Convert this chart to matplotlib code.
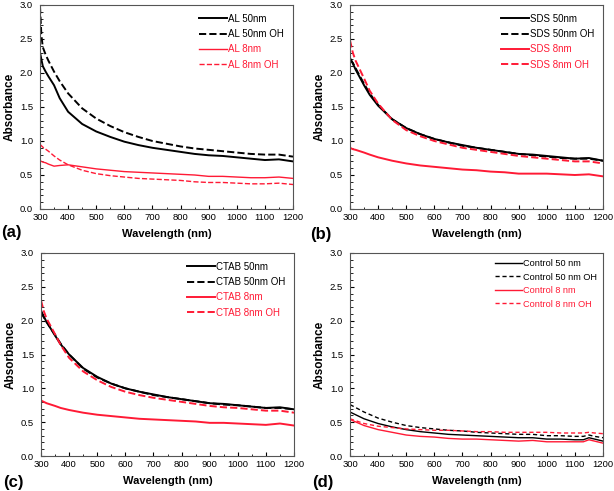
import matplotlib
matplotlib.use("Agg")
import matplotlib.pyplot as plt
from matplotlib.ticker import MultipleLocator

plt.rcParams['font.family'] = ['Liberation Sans', 'DejaVu Sans']

RED = '#ff1a35'

# ---- Panel (a): AL ----
wl_a = [300, 305, 310, 320, 330, 350, 370, 400, 450, 500, 550, 600, 650, 700, 750,
        800, 850, 900, 950, 1000, 1050, 1100, 1150, 1200]
al50 = [2.30, 2.20, 2.10, 2.02, 1.95, 1.82, 1.63, 1.43, 1.25, 1.14, 1.06, 0.99, 0.94,
        0.90, 0.87, 0.84, 0.81, 0.79, 0.78, 0.76, 0.74, 0.72, 0.73, 0.70]
al50oh = [2.98, 2.55, 2.38, 2.27, 2.18, 2.02, 1.88, 1.70, 1.48, 1.33, 1.22, 1.13, 1.06,
          1.00, 0.96, 0.92, 0.89, 0.87, 0.85, 0.83, 0.81, 0.80, 0.80, 0.77]
al8 = [0.71, 0.70, 0.69, 0.68, 0.66, 0.63, 0.64, 0.65, 0.62, 0.59, 0.57, 0.55, 0.54,
       0.53, 0.52, 0.51, 0.50, 0.48, 0.48, 0.47, 0.46, 0.46, 0.47, 0.45]
al8oh = [0.95, 0.93, 0.91, 0.88, 0.85, 0.78, 0.72, 0.65, 0.57, 0.52, 0.49, 0.47, 0.45,
         0.44, 0.43, 0.42, 0.40, 0.39, 0.39, 0.38, 0.37, 0.37, 0.38, 0.36]

# ---- Panel (b): SDS ----
wl_b = [300, 310, 320, 350, 370, 400, 450, 500, 550, 600, 650, 700, 750, 800, 850,
        900, 950, 1000, 1050, 1100, 1150, 1200]
sds50 = [2.22, 2.14, 2.05, 1.82, 1.68, 1.52, 1.32, 1.19, 1.10, 1.03, 0.98, 0.94, 0.90,
         0.87, 0.84, 0.81, 0.80, 0.78, 0.76, 0.74, 0.75, 0.71]
sds50oh = [2.20, 2.15, 2.07, 1.84, 1.70, 1.53, 1.32, 1.19, 1.10, 1.03, 0.98, 0.93, 0.90,
           0.87, 0.84, 0.81, 0.79, 0.77, 0.75, 0.74, 0.74, 0.71]
sds8 = [0.90, 0.88, 0.87, 0.83, 0.80, 0.76, 0.71, 0.67, 0.64, 0.62, 0.60, 0.58, 0.57,
        0.55, 0.54, 0.52, 0.52, 0.52, 0.51, 0.50, 0.51, 0.48]
sds8oh = [2.48, 2.30, 2.18, 1.92, 1.74, 1.55, 1.31, 1.16, 1.07, 1.00, 0.95, 0.90, 0.87,
          0.84, 0.81, 0.78, 0.76, 0.74, 0.72, 0.70, 0.70, 0.67]

# ---- Panel (c): CTAB ----
wl_c = [300, 310, 320, 350, 370, 400, 450, 500, 550, 600, 650, 700, 750, 800, 850,
        900, 950, 1000, 1050, 1100, 1150, 1200]
ctab50 = [2.15, 2.06, 1.98, 1.78, 1.65, 1.50, 1.30, 1.17, 1.07, 1.00, 0.95, 0.91, 0.87,
          0.84, 0.81, 0.78, 0.77, 0.75, 0.73, 0.71, 0.72, 0.69]
ctab50oh = [2.12, 2.05, 1.98, 1.79, 1.66, 1.50, 1.29, 1.16, 1.07, 1.00, 0.95, 0.90, 0.87,
            0.84, 0.81, 0.78, 0.76, 0.75, 0.73, 0.71, 0.71, 0.69]
ctab8 = [0.82, 0.80, 0.78, 0.74, 0.71, 0.68, 0.64, 0.61, 0.59, 0.57, 0.55, 0.54, 0.53,
         0.52, 0.51, 0.49, 0.49, 0.48, 0.47, 0.46, 0.48, 0.45]
ctab8oh = [2.30, 2.14, 2.03, 1.80, 1.64, 1.45, 1.25, 1.12, 1.02, 0.95, 0.90, 0.86, 0.83,
           0.80, 0.77, 0.74, 0.72, 0.71, 0.69, 0.67, 0.67, 0.64]

# ---- Panel (d): Control ----
wl_d = [300, 350, 400, 450, 500, 550, 600, 650, 700, 750, 800, 850, 900, 950, 1000,
        1050, 1100, 1130, 1150, 1170, 1200]
ctl50 = [0.65, 0.55, 0.48, 0.43, 0.39, 0.36, 0.34, 0.32, 0.31, 0.30, 0.29, 0.28, 0.27,
         0.27, 0.25, 0.25, 0.24, 0.24, 0.27, 0.25, 0.22]
ctl50oh = [0.76, 0.65, 0.56, 0.50, 0.45, 0.42, 0.40, 0.38, 0.37, 0.35, 0.34, 0.33, 0.32,
           0.32, 0.30, 0.30, 0.29, 0.29, 0.31, 0.29, 0.27]
ctl8 = [0.54, 0.45, 0.39, 0.35, 0.31, 0.29, 0.28, 0.26, 0.25, 0.25, 0.24, 0.23, 0.22,
        0.23, 0.21, 0.21, 0.21, 0.21, 0.24, 0.22, 0.19]
ctl8oh = [0.55, 0.48, 0.44, 0.42, 0.40, 0.39, 0.38, 0.38, 0.37, 0.36, 0.36, 0.35, 0.35,
          0.35, 0.35, 0.34, 0.34, 0.34, 0.35, 0.34, 0.33]

panels = [
    ('(a)', wl_a, [al50, al50oh, al8, al8oh],
     ['AL 50nm', 'AL 50nm OH', 'AL 8nm', 'AL 8nm OH'], 1.4, 1.0),
    ('(b)', wl_b, [sds50, sds50oh, sds8, sds8oh],
     ['SDS 50nm', 'SDS 50nm OH', 'SDS 8nm', 'SDS 8nm OH'], 1.4, 1.4),
    ('(c)', wl_c, [ctab50, ctab50oh, ctab8, ctab8oh],
     ['CTAB 50nm', 'CTAB 50nm OH', 'CTAB 8nm', 'CTAB 8nm OH'], 1.4, 1.4),
    ('(d)', wl_d, [ctl50, ctl50oh, ctl8, ctl8oh],
     ['Control 50 nm', 'Control 50 nm OH', 'Control 8 nm', 'Control 8 nm OH'], 1.0, 1.0),
]

fig = plt.figure(figsize=(6.14, 4.91), dpi=100)
W, H = 614, 491
boxes = [(40, 5, 293, 209), (350, 5, 603, 209), (41, 253, 294, 456), (350, 253, 603, 456)]
label_pos = [(1, 232), (310, 234), (3, 482), (312, 482)]

for (lab, wl, series, names, lw_b, lw_r), (x0, y0, x1, y1), (lx, ly) in zip(panels, boxes, label_pos):
    ax = fig.add_axes([x0 / W, 1 - y1 / H, (x1 - x0) / W, (y1 - y0) / H])
    colors = ['black', 'black', RED, RED]
    styles = ['-', '--', '-', '--']
    lws = [lw_b, lw_b, lw_r, lw_r]
    for s, n, c, ls, lw in zip(series, names, colors, styles, lws):
        if lab == '(d)' and ls == '--':
            ax.plot(wl, s, color=c, ls=ls, lw=lw, dashes=(3, 2), label=n)
        else:
            ax.plot(wl, s, color=c, ls=ls, lw=lw, label=n)
    ax.set_xlim(300, 1200)
    ax.set_ylim(0, 3.0)
    ax.xaxis.set_major_locator(MultipleLocator(100))
    ax.xaxis.set_minor_locator(MultipleLocator(50))
    ax.yaxis.set_major_locator(MultipleLocator(0.5))
    ax.yaxis.set_minor_locator(MultipleLocator(0.1))
    ax.yaxis.set_major_formatter(matplotlib.ticker.FormatStrFormatter('%.1f'))
    ax.tick_params(which='both', direction='in', top=False, right=False, labelsize=6.8)
    ax.tick_params(axis='x', pad=3)
    ax.tick_params(axis='y', pad=5)
    ax.tick_params(which='major', length=3, width=0.8)
    ax.tick_params(which='minor', length=1.8, width=0.6)
    for sp in ax.spines.values():
        sp.set_color('#555555')
        sp.set_linewidth(0.8)
    ax.set_xlabel('Wavelength (nm)', fontsize=8, fontweight='bold', labelpad=5)
    ax.set_ylabel('Absorbance', fontsize=8.5, fontweight='bold', labelpad=3)
    if lab == '(d)':
        leg = ax.legend(loc='upper right', frameon=False, fontsize=6.6, handlelength=3.0,
                        handletextpad=0.1, labelspacing=0.5, borderaxespad=0.25)
    else:
        leg = ax.legend(loc='upper right', frameon=False, fontsize=7, handlelength=2.9,
                        handletextpad=0.1, labelspacing=0.55, borderaxespad=0.5)
    for t, c in zip(leg.get_texts(), colors):
        t.set_color(c)
    fig.text(lx / W, 1 - ly / H, lab, fontsize=12, fontweight='bold',
             ha='left', va='center')

fig.savefig('out.png', dpi=100)
